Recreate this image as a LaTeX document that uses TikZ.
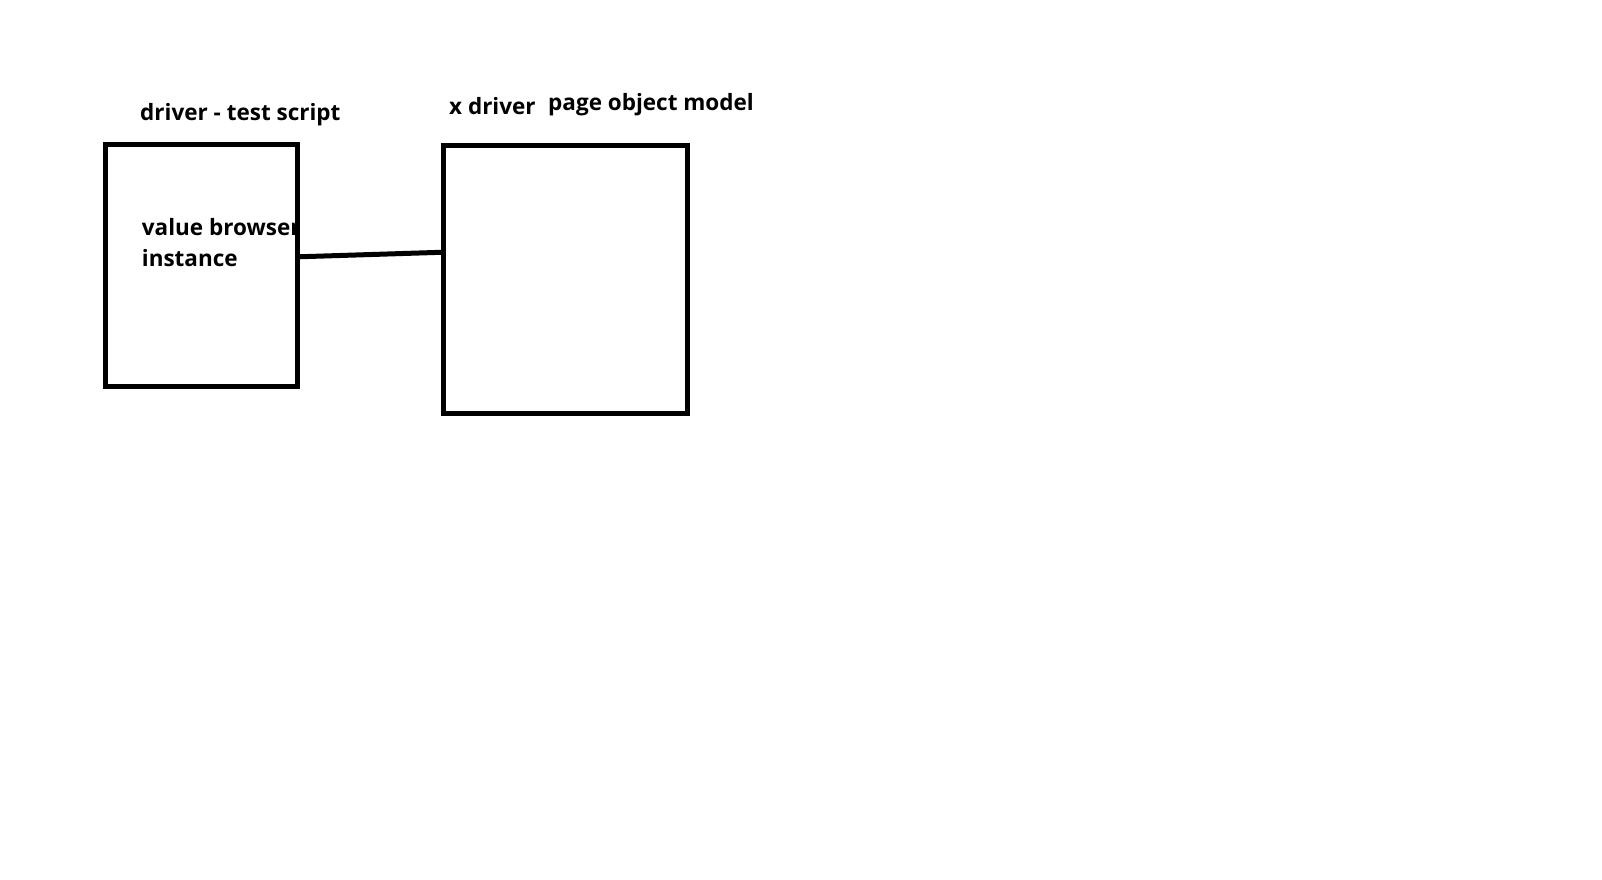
\documentclass[tikz,border=0pt]{standalone}
\usepackage{fontspec}
\setmainfont{Open Sans}

\begin{document}
\begin{tikzpicture}[x=1pt, y=-1pt,
	box/.style={draw, line width=5pt, minimum width=#1},
	lbl/.style={anchor=base west, inner sep=0pt, font=\fontsize{22.5}{27}\selectfont\bfseries}]
	\useasboundingbox (0, 0) rectangle (1602, 879);
	\node[lbl] (valuetxt) at (141.7, 235) {value browser};
	\node[lbl] (insttxt) at (141.7, 266.7) {instance};
	\node[box=192pt, minimum height=242.5pt] (script) at (201.5, 265.25) {};
	\node[box=243.5pt, minimum height=268pt] (pom) at (565.25, 279.5) {};
	\draw[line width=5pt] ([yshift=8.5pt]script.east) -- ([yshift=27.2pt]pom.west);
	\node[lbl] (scripttxt) at (140, 120) {driver - test script};
	\node[lbl] (drivertxt) at (449, 114.3) {x driver};
	\node[lbl] (pomtxt) at (548, 110) {page object model};
\end{tikzpicture}
\end{document}
